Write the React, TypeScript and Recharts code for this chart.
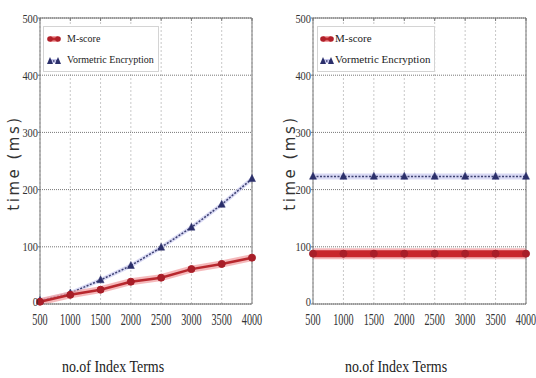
import React from 'react';
import { LineChart, Line, XAxis, YAxis, CartesianGrid } from 'recharts';

const indexTerms = [500, 1000, 1500, 2000, 2500, 3000, 3500, 4000];
const mScoreLeft = [4, 16, 25, 39, 46, 61, 70, 81];
const vormetricLeft = [6, 19, 42, 67, 99, 134, 174, 219];
const mScoreRight = [88, 88, 88, 88, 88, 88, 88, 88];
const vormetricRight = [223, 223, 223, 223, 223, 223, 223, 223];
const yTicks = [0, 100, 200, 300, 400, 500];
const seriesNames = ['M-score', 'Vormetric Encryption'];

const leftData = indexTerms.map((t, i) => ({ t, m: mScoreLeft[i], v: vormetricLeft[i] }));
const rightData = indexTerms.map((t, i) => ({ t, m: mScoreRight[i], v: vormetricRight[i] }));

const serif = '"Liberation Serif", "Times New Roman", "DejaVu Serif", serif';

const Circle = (r: number, fill: string) => (p: any) => {
  if (p.cx == null || p.cy == null) return <g key={p.key} />;
  return <circle key={p.key} cx={p.cx} cy={p.cy} r={r} fill={fill} stroke={fill} />;
};
const Tri = (s: number, fill: string) => (p: any) => {
  if (p.cx == null || p.cy == null) return <g key={p.key} />;
  const { cx, cy } = p;
  return (
    <path
      key={p.key}
      d={`M${cx},${cy - s * 0.6} L${cx + s * 0.5},${cy + s * 0.4} L${cx - s * 0.5},${cy + s * 0.4} Z`}
      fill={fill}
      stroke={fill}
      strokeWidth={0.5}
    />
  );
};

const XTick = (p: any) => (
  <g transform={`translate(${p.x},${p.y}) scale(0.6,1)`}>
    <text x={0} y={0} dy={14} textAnchor="middle" fontFamily={serif} fontSize={17} fill="#333">
      {p.payload.value}
    </text>
  </g>
);
const YTick = (p: any) => (
  <g transform={`translate(${p.x},${p.y - (p.payload.value === 0 ? 3 : 0)}) scale(0.8,1)`}>
    <text x={0} y={0} dy={4.5} textAnchor="end" fontFamily={serif} fontSize={13} fill="#333">
      {p.payload.value}
    </text>
  </g>
);

const LegendBox = ({ left, fontSize, iconPad, gap }: { left: number; fontSize: number; iconPad: number; gap: number }) => (
  <div
    style={{
      position: 'absolute',
      left,
      top: 26,
      border: '1px solid #d4d4d4',
      background: '#fff',
      padding: `1px 4px 1px ${iconPad}px`,
      fontFamily: serif,
      fontSize,
      color: '#222',
      lineHeight: '21px',
      whiteSpace: 'nowrap',
    }}
  >
    <div style={{ display: 'flex', alignItems: 'center' }}>
      <svg width={14} height={10} style={{ marginRight: gap }}>
        <line x1={3} y1={5} x2={11} y2={5} stroke="#f1a1a4" strokeWidth={6} />
        <line x1={3} y1={5} x2={11} y2={5} stroke="#c0282e" strokeWidth={3} />
        <circle cx={3} cy={5} r={2.8} fill="#b0202a" />
        <circle cx={11} cy={5} r={2.8} fill="#b0202a" />
      </svg>
      {seriesNames[0]}
    </div>
    <div style={{ display: 'flex', alignItems: 'center' }}>
      <svg width={14} height={10} style={{ marginRight: gap }}>
        <line x1={3} y1={6} x2={11} y2={6} stroke="#c9c9ef" strokeWidth={4} />
        <line x1={3} y1={6} x2={11} y2={6} stroke="#3c4070" strokeWidth={1.3} strokeDasharray="1.5 1.5" />
        <path d="M3,2 L6,9 L0,9 Z" fill="#2b2f6a" />
        <path d="M11,2 L14,9 L8,9 Z" fill="#2b2f6a" />
      </svg>
      {seriesNames[1]}
    </div>
  </div>
);

type PanelProps = {
  data: any[];
  width: number;
  left: number;
  right: number;
  thick: boolean;
};

const Panel = ({ data, width, left, right, thick }: PanelProps) => (
  <LineChart width={width} height={378} data={data} margin={{ top: 18, right: right - 1, bottom: 44, left: 0 }}>
    <CartesianGrid horizontal={false} stroke="#c8c8c8" strokeDasharray="2 2" />
    <CartesianGrid vertical={false} stroke="#777" strokeDasharray="1 1" />
    <XAxis
      dataKey="t"
      type="number"
      domain={[500, 4000]}
      ticks={indexTerms}
      interval={0}
      height={30}
      tickLine={false}
      tickMargin={1}
      stroke="#777"
      tick={XTick}
    />
    <XAxis
      xAxisId="top"
      dataKey="t"
      type="number"
      domain={[500, 4000]}
      ticks={indexTerms}
      interval={0}
      orientation="top"
      height={1}
      mirror
      tickSize={3}
      stroke="#777"
      tick={() => <g />}
    />
    <YAxis
      domain={[0, 500]}
      ticks={yTicks}
      interval={0}
      width={left}
      tickSize={2}
      tickMargin={0}
      stroke="#777"
      tick={YTick}
    />
    <YAxis
      yAxisId="r"
      domain={[0, 500]}
      ticks={yTicks}
      orientation="right"
      width={1}
      mirror
      tickSize={3}
      stroke="#777"
      tick={() => <g />}
    />
    <Line
      dataKey="v"
      stroke="#c9c9ef"
      strokeOpacity={0.7}
      strokeWidth={thick ? 6 : 4}
      dot={false}
      isAnimationActive={false}
    />
    <Line
      dataKey="v"
      stroke="#3c4070"
      strokeWidth={1.5}
      strokeDasharray="2 1.5"
      dot={Tri(7, '#2b2f6a')}
      isAnimationActive={false}
    />
    <Line
      dataKey="m"
      stroke="#f1a1a4"
      strokeOpacity={0.75}
      strokeWidth={thick ? 11 : 7}
      dot={false}
      isAnimationActive={false}
    />
    <Line
      dataKey="m"
      stroke={thick ? '#c8262c' : '#b8282e'}
      strokeWidth={thick ? 7 : 2.5}
      dot={Circle(3.5, '#a81e28')}
      isAnimationActive={false}
    />
  </LineChart>
);

const yTitle: React.CSSProperties = {
  position: 'absolute',
  fontFamily: '"DejaVu Sans", sans-serif',
  fontSize: 15,
  letterSpacing: 2.5,
  color: '#333',
  transform: 'translate(-50%, -50%) rotate(-90deg)',
  whiteSpace: 'nowrap',
};
const xTitle: React.CSSProperties = {
  position: 'absolute',
  fontFamily: serif,
  fontSize: 17,
  color: '#222',
  transform: 'translate(-50%, -50%) scaleX(0.82)',
  whiteSpace: 'nowrap',
};

export default function App() {
  return (
    <div style={{ position: 'absolute', left: 0, top: 0, width: 536, height: 378, background: '#fff', overflow: 'hidden' }}>
      <div style={{ position: 'absolute', left: 0, top: 0 }}>
        <Panel data={leftData} width={270} left={40} right={19} thick={false} />
      </div>
      <div style={{ position: 'absolute', left: 268, top: 0 }}>
        <Panel data={rightData} width={268} left={45} right={11} thick />
      </div>
      <LegendBox left={43} fontSize={10} iconPad={3} gap={6} />
      <LegendBox left={317} fontSize={11} iconPad={2} gap={1} />
      <div style={{ ...yTitle, left: 14, top: 163 }}>time (ms)</div>
      <div style={{ ...yTitle, left: 290, top: 163 }}>time (ms)</div>
      <div style={{ ...xTitle, left: 113, top: 367 }}>no.of Index Terms</div>
      <div style={{ ...xTitle, left: 396, top: 367 }}>no.of Index Terms</div>
    </div>
  );
}
